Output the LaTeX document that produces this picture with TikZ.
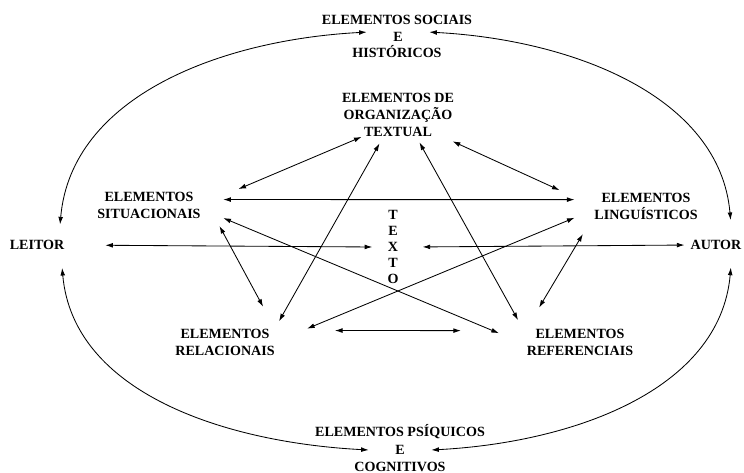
\documentclass[tikz,border=0pt]{standalone}
\usepackage{fontspec}
\setmainfont{Liberation Serif}
\usepackage{tikz}
\usetikzlibrary{arrows.meta}
\tikzset{
  elem/.style={align=center, inner sep=0pt},
  word/.style={inner sep=0pt},
  conj/.style={word, anchor=base, minimum width=1.55cm},
  link/.style={{Latex[length=1.9mm,width=1.2mm]}-{Latex[length=1.9mm,width=1.2mm]}, line width=0.6pt}
}

\begin{document}
\begin{tikzpicture}[x=0.025cm, y=-0.025cm, font=\fontsize{10}{12}\selectfont\bfseries]
        \useasboundingbox (0,0) rectangle (744,473);
        \node[word, anchor=base] (soc) at (397,24.6) {ELEMENTOS SOCIAIS};
        \node[conj] (socE) at (398,41.6) {E};
        \node[word, anchor=base] (hist) at (397,57.6) {HISTÓRICOS};
        \node[elem] (org) at (398,115) {ELEMENTOS DE\\ORGANIZAÇÃO\\TEXTUAL};
        \node[elem] (sit) at (149,205) {ELEMENTOS\\SITUACIONAIS};
        \node[elem] (ling) at (646,206) {ELEMENTOS\\LINGUÍSTICOS};
        \node[word] (leitor) at (37,245) {LEITOR};
        \node[word] (autor) at (716,245) {AUTOR};
        \node[elem, inner xsep=0.375cm, font=\fontsize{10}{11.4}\selectfont\bfseries] (texto) at (393,247) {T\\E\\X\\T\\O};
        \node[elem] (rel) at (225,342) {ELEMENTOS\\RELACIONAIS};
        \node[elem] (ref) at (580,342) {ELEMENTOS\\REFERENCIAIS};
        \node[word, anchor=base] (psi) at (400,436.6) {ELEMENTOS PSÍQUICOS};
        \node[conj] (psiE) at (400,454.6) {E};
        \node[word, anchor=base] (cogn) at (400,471.6) {COGNITIVOS};
        \draw[link, shorten >=0.39cm] (socE.north west) to[out=183, in=85] (leitor.13);
        \draw[link, shorten >=0.5cm] (socE.north east) to[out=-3, in=95] (autor.17);
        \draw[link, shorten <=0.45cm] (leitor.-12) to[out=-85, in=177] (psiE.west);
        \draw[link, shorten >=0.44cm] (psiE.east) to[out=3, in=-95] (autor.-17);
        \draw[link, shorten <=0.56cm, shorten >=0.49cm] (sit.6) -- (ling.173);
        \draw[link, shorten <=1.02cm] (sit.east) -- (org.211);
        \draw[link, shorten <=0.27cm, shorten >=0.95cm] (org.-26) -- (ling.west);
        \draw[link, shorten <=0.98cm, shorten >=0.62cm] (sit.north east) -- (rel.north east);
        \draw[link, shorten <=0.61cm, shorten >=0.75cm] (sit.-4) -- (ref.183);
        \draw[link, shorten <=0.19cm, shorten >=0.21cm] (org.236) -- (rel.north east);
        \draw[link, shorten <=0.16cm, shorten >=0.44cm] (org.-50) -- (ref.173);
        \draw[link, shorten <=0.53cm, shorten >=0.87cm] (ling.184) -- (rel.east);
        \draw[link, shorten <=0.55cm, shorten >=0.61cm] (ling.190) -- (ref.north west);
        \draw[link, shorten <=1.5cm, shorten >=1.64cm] (rel.13) -- (ref.168);
        \draw[link, shorten <=1.02cm] (leitor.east) -- (texto.west);
        \draw[link, shorten <=0.22cm, shorten >=0.15cm] (texto.east) -- (autor.west);
    \end{tikzpicture}
\end{document}
